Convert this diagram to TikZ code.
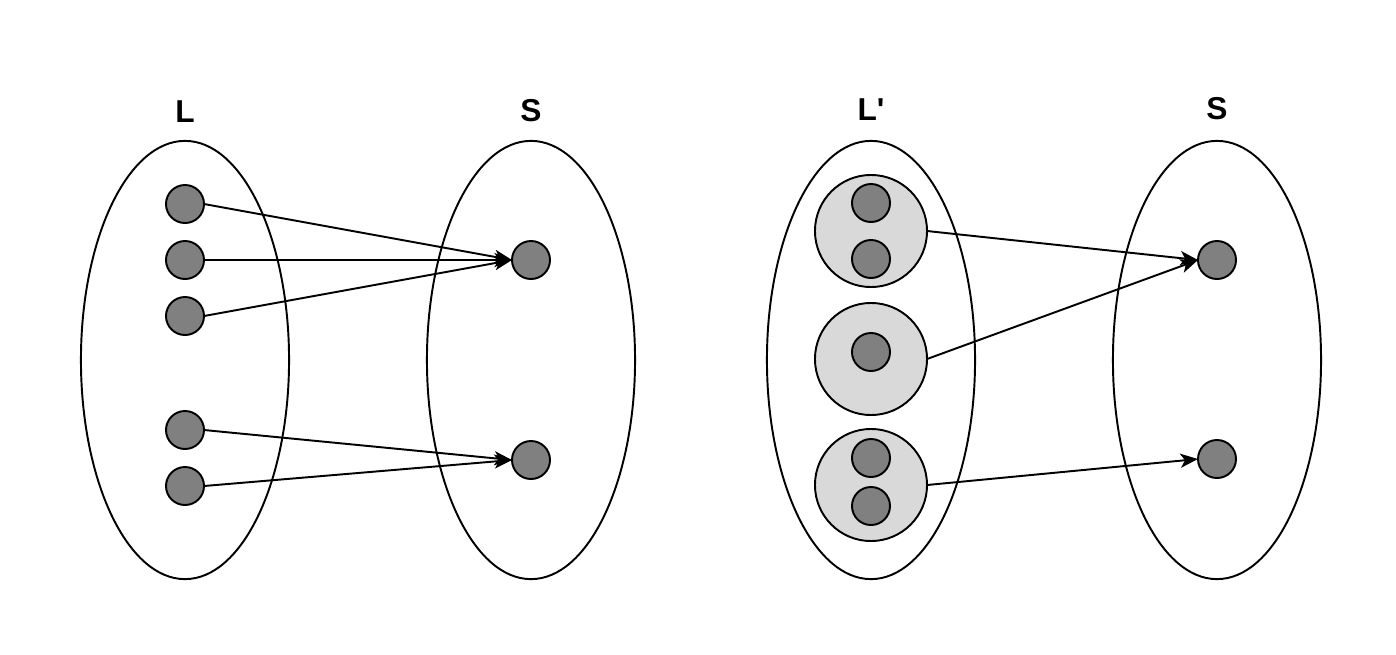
\documentclass[tikz,border=0pt]{standalone}
\usepackage{fontspec}
\setmainfont{Liberation Sans}
\newfontfamily\lblfont{Liberation Sans}[Ligatures=TeXOff]
\usetikzlibrary{arrows.meta,shapes.geometric}
\definecolor{dotgray}{HTML}{808080}
\definecolor{biggray}{HTML}{D9D9D9}
\begin{document}
\begin{tikzpicture}[x=0.01cm,y=-0.01cm,
  setell/.style={ellipse,draw=black,line width=0.55pt,fill=none,minimum width=2.08cm,minimum height=4.38cm,inner sep=0pt},
  dotnode/.style={circle,draw=black,line width=0.55pt,fill=dotgray,minimum size=0.38cm,inner sep=0pt,outer sep=0pt},
  grpnode/.style={circle,draw=black,line width=0.55pt,fill=biggray,minimum size=1.12cm,inner sep=0pt,outer sep=0pt},
  lbl/.style={font=\lblfont\fontsize{9pt}{10pt}\selectfont\bfseries,inner sep=0pt},
  conn/.style={-{Stealth[length=5pt,width=4pt,inset=1.3pt]},line width=0.55pt}]
\useasboundingbox (0,0) rectangle (1396,654);
% ellipses
\node[setell] (eL) at (185,360) {};
\node[setell] (eS1) at (531,360) {};
\node[setell] (eLp) at (871,360) {};
\node[setell] (eS2) at (1217,360) {};
% labels
\node[lbl] (tL) at (185,112) {L};
\node[lbl] (tS1) at (531,111) {S};
\node[lbl] (tLp) at (871,110) {L'};
\node[lbl] (tS2) at (1217,109) {S};
% left dots
\node[dotnode] (a1) at (185,204) {};
\node[dotnode] (a2) at (185,260) {};
\node[dotnode] (a3) at (185,316) {};
\node[dotnode] (a4) at (185,430) {};
\node[dotnode] (a5) at (185,486) {};
\node[dotnode] (s1) at (531,260) {};
\node[dotnode] (s2) at (531,460) {};
% right groups
\node[grpnode] (g1) at (871,231) {};
\node[grpnode] (g2) at (871,359) {};
\node[grpnode] (g3) at (871,485) {};
\node[dotnode] (g1a) at (871,203) {};
\node[dotnode] (g1b) at (871,259) {};
\node[dotnode] (g2a) at (871,352) {};
\node[dotnode] (g3a) at (871,458) {};
\node[dotnode] (g3b) at (871,506) {};
\node[dotnode] (t1) at (1217,260) {};
\node[dotnode] (t2) at (1217,459) {};
% connectors
\draw[conn] (a1.east) -- (s1.west);
\draw[conn] (a2.east) -- (s1.west);
\draw[conn] (a3.east) -- (s1.west);
\draw[conn] (a4.east) -- (s2.west);
\draw[conn] (a5.east) -- (s2.west);
\draw[conn] (g1.east) -- (t1.west);
\draw[conn] (g2.east) -- (t1.west);
\draw[conn] (g3.east) -- (t2.west);
\end{tikzpicture}
\end{document}
